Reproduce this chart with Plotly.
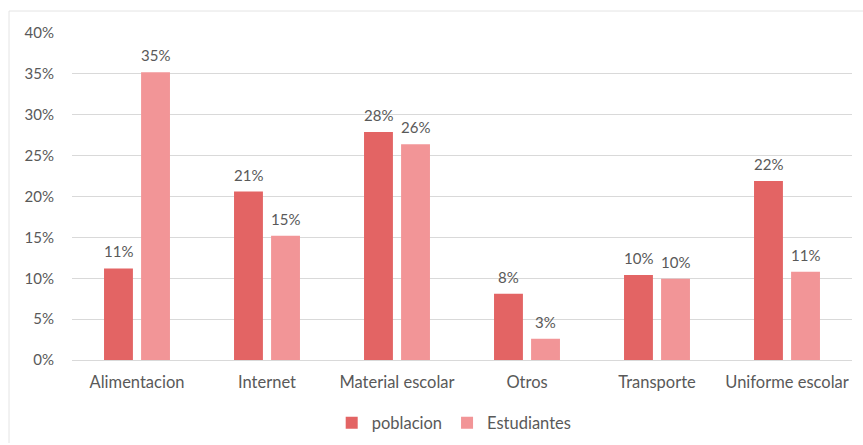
import plotly.graph_objects as go

categorias = ["Alimentacion", "Internet", "Material escolar", "Otros", "Transporte", "Uniforme escolar"]
poblacion = [0.112, 0.206, 0.279, 0.081, 0.104, 0.219]
estudiantes = [0.352, 0.152, 0.264, 0.026, 0.0995, 0.108]
ticks_y = [0, 0.05, 0.10, 0.15, 0.20, 0.25, 0.30, 0.35, 0.40]

FONT = "Lato, Open Sans, sans-serif"
GRIS = "#595959"
COLORES = {"poblacion": "#E36464", "Estudiantes": "#F29597"}

W, H = 863, 445
ml, mr, mt, mb = 72, 11, 33, 85
pw, ph = W - ml - mr, H - mt - mb
BARGAP, GROUPGAP = 0.43, 0.22
# horizontal distance of each bar's centre from its category centre (px)
slot = pw / len(categorias) * (1 - BARGAP) / 2
offsets = {"poblacion": -slot / 2, "Estudiantes": slot / 2}

fig = go.Figure()
series = [("poblacion", poblacion), ("Estudiantes", estudiantes)]
for nombre, valores in series:
    fig.add_trace(go.Bar(
        x=categorias, y=valores, name=nombre,
        marker=dict(color=COLORES[nombre], line=dict(width=0)),
    ))

# value labels above each bar
etiquetas = []
for nombre, valores in series:
    for cat, v in zip(categorias, valores):
        etiquetas.append(dict(
            x=cat, y=v, xref="x", yref="y",
            text=f"{v:.0%}", showarrow=False,
            xanchor="center", yanchor="bottom",
            xshift=offsets[nombre], yshift=6,
            font=dict(family=FONT, size=15, color=GRIS),
        ))

def px(xp):
    return (xp - ml) / pw

def py(yp):
    return (H - mb - yp) / ph

fig.update_layout(
    width=W, height=H,
    margin=dict(l=ml, r=mr, t=mt, b=mb, autoexpand=False),
    paper_bgcolor="white", plot_bgcolor="white",
    barmode="group", bargap=BARGAP, bargroupgap=GROUPGAP,
    font=dict(family=FONT, size=14, color=GRIS),
    showlegend=True,
    legend=dict(orientation="h", x=0.49, xanchor="center",
                yref="container", y=1 - 423 / H, yanchor="middle",
                font=dict(family=FONT, size=16.5, color=GRIS),
                itemwidth=30, traceorder="normal"),
    xaxis=dict(showgrid=False, showline=True, linecolor="#d9d9d9", linewidth=1,
               ticks="", tickfont=dict(family=FONT, size=16.5, color=GRIS),
               ticklabelstandoff=7),
    yaxis=dict(range=[0, 0.40], tickvals=ticks_y, tickformat=".0%",
               showgrid=True, gridcolor="#d9d9d9", gridwidth=1, zeroline=False,
               showline=False, ticks="", ticklabelstandoff=17,
               tickfont=dict(family=FONT, size=15, color=GRIS)),
    annotations=etiquetas,
    shapes=[
        dict(type="line", xref="paper", yref="paper",
             x0=px(9), x1=px(863), y0=py(11), y1=py(11),
             line=dict(color="#e4e4e4", width=1)),
        dict(type="line", xref="paper", yref="paper",
             x0=px(9), x1=px(9), y0=py(11), y1=py(443),
             line=dict(color="#e4e4e4", width=1)),
    ],
)

fig.write_html("out.html")
